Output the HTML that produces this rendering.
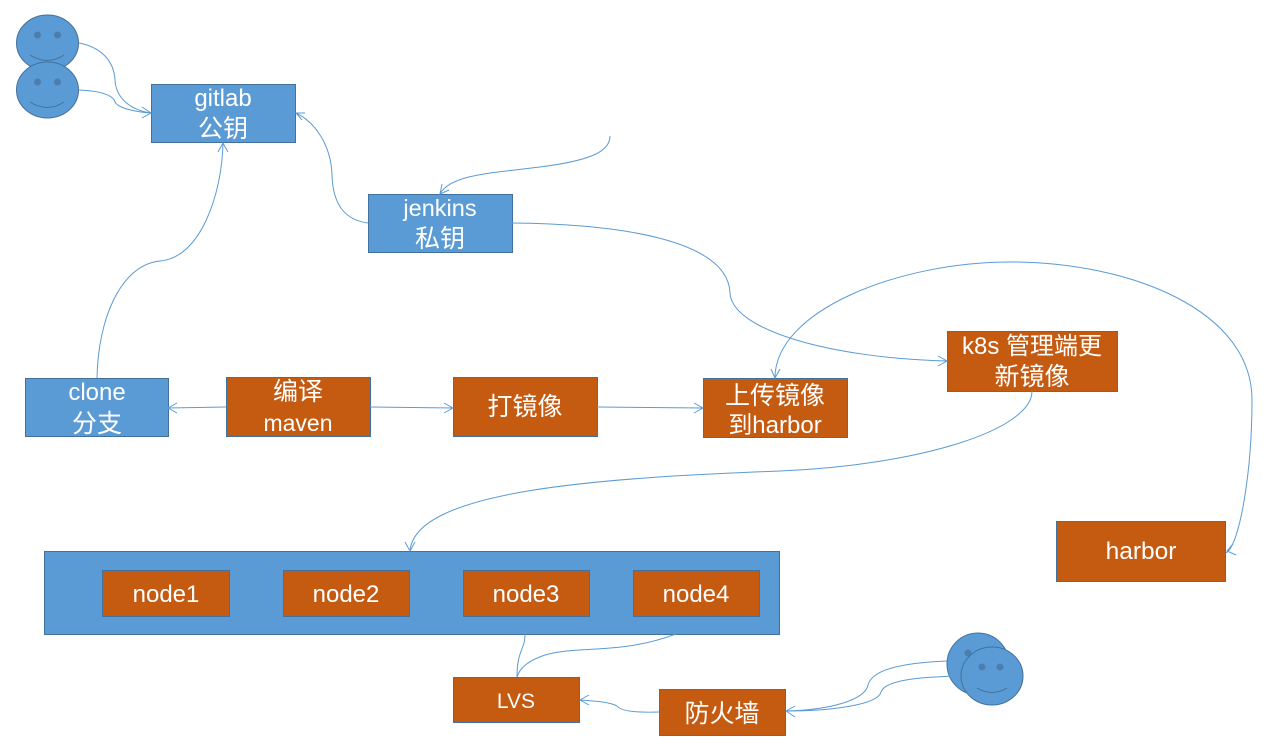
<!DOCTYPE html>
<html><head><meta charset="utf-8"><style>
html,body{margin:0;padding:0;background:#fff;width:1282px;height:745px;overflow:hidden}
svg{display:block}
text{font-family:"Liberation Sans","Noto Sans CJK SC",sans-serif;fill:#fff;text-anchor:middle}
.l{font-size:24px}.c{font-size:25px}
.b{fill:#5b9bd5;stroke:#41719c;stroke-width:1}
.o{fill:#c55a11;stroke:#41719c;stroke-width:1}
.w{fill:none;stroke:#5b9bd5;stroke-width:1}
.e{fill:#4a7eae;stroke:none}
.m{fill:none;stroke:#41719c;stroke-width:1}
</style></head><body>
<svg width="1282" height="745" viewBox="0 0 1282 745" xmlns="http://www.w3.org/2000/svg">
<ellipse class="b" cx="47.500" cy="43" rx="31" ry="28"/>
<circle class="e" cx="37.500" cy="35" r="3.500"/><circle class="e" cx="57.500" cy="35" r="3.500"/>
<path class="m" d="M30 55Q47.500 66 64 55"/>
<ellipse class="b" cx="47.500" cy="90" rx="31" ry="28"/>
<circle class="e" cx="37.500" cy="82" r="3.500"/><circle class="e" cx="57.500" cy="82" r="3.500"/>
<path class="m" d="M30 102Q47.500 113 64 102"/>
<ellipse class="b" cx="978" cy="664" rx="31" ry="31"/>
<circle class="e" cx="968" cy="653" r="3.500"/>
<ellipse class="b" cx="992" cy="676" rx="31" ry="29"/>
<circle class="e" cx="982" cy="667" r="3.500"/><circle class="e" cx="1000" cy="667" r="3.500"/>
<path class="m" d="M977 688Q992 697 1007 688"/>

<rect class="b" x="151.500" y="84.500" width="144" height="58"/>
<text class="l" x="223" y="106">gitlab</text><text class="c" x="223" y="137">公钥</text>
<rect class="b" x="368.500" y="194.500" width="144" height="58"/>
<text class="l" x="440" y="216" style="font-size:23.500px">jenkins</text><text class="c" x="440" y="247">私钥</text>
<rect class="b" x="25.500" y="378.500" width="143" height="58"/>
<text class="l" x="97" y="400">clone</text><text class="c" x="97" y="432">分支</text>
<rect class="o" x="226.500" y="377.500" width="144" height="59"/>
<text class="c" x="298" y="400">编译</text><text class="l" x="298" y="431" style="font-size:23px">maven</text>
<rect class="o" x="453.500" y="377.500" width="144" height="59"/>
<text class="c" x="525" y="415">打镜像</text>
<rect class="o" x="703.500" y="378.500" width="144" height="59"/>
<text class="c" x="775" y="404">上传镜像</text><text class="l" x="775" y="433">到harbor</text>
<rect class="o" x="947.500" y="331.500" width="170" height="60"/>
<text class="l" x="1032" y="354">k8s 管理端更</text><text class="c" x="1032" y="385">新镜像</text>
<rect class="o" x="1056.500" y="521.500" width="169" height="60"/>
<text class="l" x="1141" y="559" style="font-size:24.500px">harbor</text>
<rect class="b" x="44.500" y="551.500" width="735" height="83"/>
<rect class="o" x="102.500" y="570.500" width="127" height="46"/><text class="l" x="166" y="602">node1</text>
<rect class="o" x="283.500" y="570.500" width="126" height="46"/><text class="l" x="346" y="602">node2</text>
<rect class="o" x="463.500" y="570.500" width="126" height="46"/><text class="l" x="526" y="602">node3</text>
<rect class="o" x="633.500" y="570.500" width="126" height="46"/><text class="l" x="696" y="602">node4</text>
<rect class="o" x="453.500" y="677.500" width="126" height="45"/><text class="l" x="516" y="708" style="font-size:21px">LVS</text>
<rect class="o" x="659.500" y="689.500" width="126" height="46"/><text class="c" x="722" y="722">防火墙</text>

<path class="w" d="M79 43C100 47 114 60 115 80C116 98 130 110 151 113"/>
<path class="w" d="M79 90C100 91 113 95 115 102C118 108 135 112 151 113"/>
<path class="w" d="M142 107L151 113L142 118"/>
<path class="w" d="M368 223C345 220 333 205 332 175C331 145 315 122 296 113"/>
<path class="w" d="M305 113L296 113L302 120"/>
<path class="w" d="M97 378C98 320 120 265 160 261C200 258 222 195 223 143"/>
<path class="w" d="M218 152L223 143L228 152"/>
<path class="w" d="M610 136C610 150 595 160 540 167C490 173 450 175 440 194"/>
<path class="w" d="M442 184L440 194L449 190"/>
<path class="w" d="M512 223C620 224 728 240 730 293C732 330 830 358 947 361"/>
<path class="w" d="M938 356L947 361L938 366"/>
<path class="w" d="M1226 553C1240 545 1252 470 1252 400C1252 310 1130 262 1010 262C900 262 775 310 775 378"/>
<path class="w" d="M771 369L775 378L780 369"/>
<path class="w" d="M1236 555L1227 551L1233 544"/>
<path class="w" d="M226 407L168 408"/><path class="w" d="M177 403L168 408L177 413"/>
<path class="w" d="M370 407L453 408"/><path class="w" d="M444 403L453 408L444 413"/>
<path class="w" d="M597 407L703 408"/><path class="w" d="M694 403L703 408L694 413"/>
<path class="w" d="M1032 391C1032 430 920 465 780 471C600 478 415 490 410 551"/>
<path class="w" d="M405 542L410 551L415 542"/>
<path class="w" d="M525 634C525 650 517 650 517 677"/>
<path class="w" d="M676 634C620 655 580 645 545 655C530 660 520 667 517 677"/>
<path class="w" d="M659 712C630 713 620 710 617 706C610 702 595 701 580 700"/>
<path class="w" d="M589 695L580 700L589 705"/>
<path class="w" d="M947 661C900 663 872 670 868 685C865 700 830 710 786 711"/>
<path class="w" d="M958 676C920 677 885 680 881 692C878 705 830 711 786 711"/>
<path class="w" d="M795 706L786 711L795 717"/>
</svg>
</body></html>
